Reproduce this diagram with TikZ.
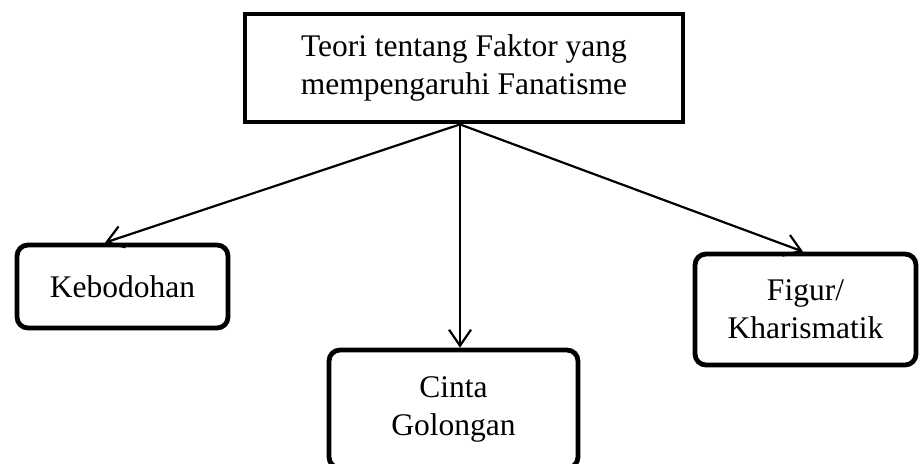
\documentclass[tikz,border=0pt]{standalone}
\usepackage{fontspec}
\setmainfont{Liberation Serif}
\usetikzlibrary{arrows.meta}

\begin{document}
\begin{tikzpicture}[x=0.5pt, y=-0.5pt,
    every node/.style={font=\fontsize{15.75}{19}\selectfont},
    teoribox/.style={draw, line width=2.4pt, align=center, minimum width=219pt, minimum height=54pt},
    faktorbox/.style={draw, line width=2.4pt, rounded corners=5.5pt, align=center},
    link/.style={-{Straight Barb[length=8pt,width=11pt]}, line width=1.1pt}]
    \useasboundingbox (0,0) rectangle (922,463);
    \clip (0,0) rectangle (922,463);

    % Main theory box
    \node[teoribox] (teori) at (464,68) {Teori tentang Faktor yang\\mempengaruhi Fanatisme};

    % Factor boxes
    \node[faktorbox, minimum width=105.5pt, minimum height=41.5pt] (bodoh) at (122.5,286.5) {Kebodohan};
    \node[faktorbox, minimum width=124.5pt, minimum height=59pt] (cinta) at (453.5,409) {Cinta\\Golongan};
    \node[faktorbox, minimum width=110.5pt, minimum height=55.5pt] (figur) at (805.5,309.5) {Figur/\\Kharismatik};

    % Arrows from the theory to each factor
    \draw[link] ([xshift=-2pt]teori.south) -- ([xshift=-8.75pt]bodoh.north);
    \draw[link] ([xshift=-2pt]teori.south) -- ([xshift=3.25pt]cinta.north);
    \draw[link] ([xshift=-2pt]teori.south) -- ([xshift=-1.25pt]figur.north);
\end{tikzpicture}
\end{document}
